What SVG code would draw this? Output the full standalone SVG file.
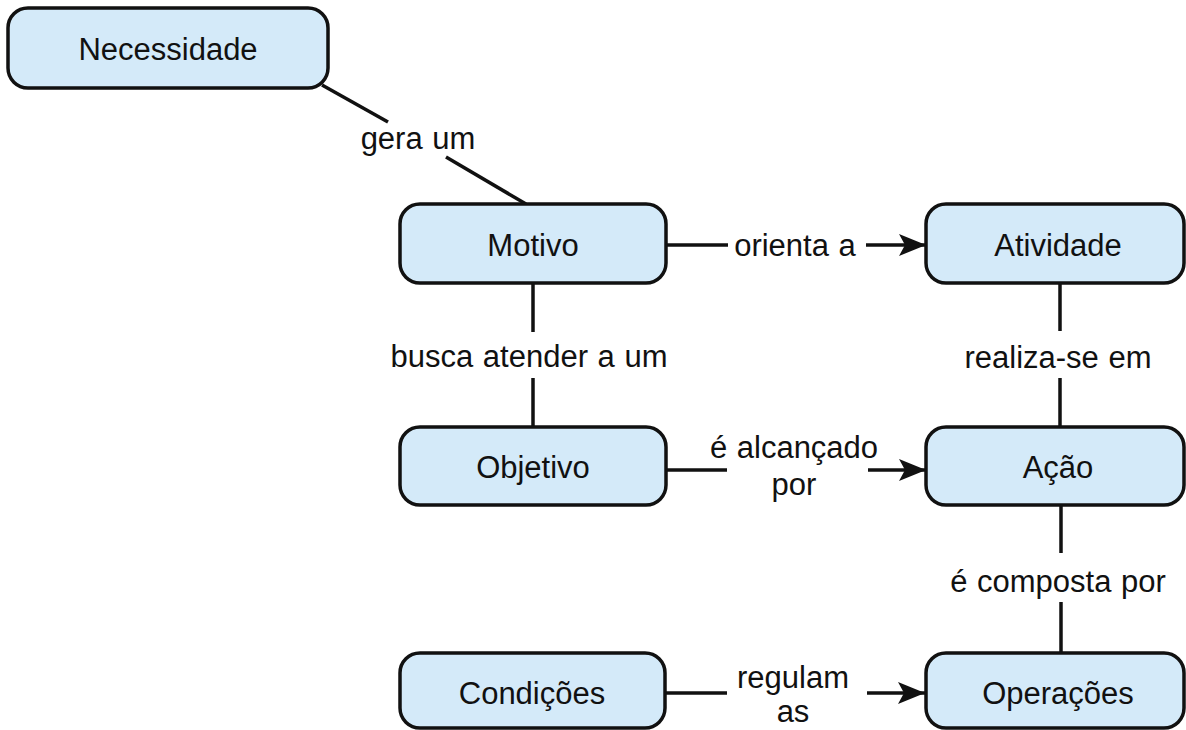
<svg xmlns="http://www.w3.org/2000/svg" width="1186" height="730" viewBox="0 0 1186 730">
<style>
.box{fill:#d4eaf9;stroke:#111;stroke-width:3.5}
.t{font-family:"Liberation Sans",Arial,sans-serif;font-size:31px;fill:#111;text-anchor:middle;word-spacing:1px}
.c{stroke:#111;stroke-width:3.5;fill:none}
</style>
<defs>
<marker id="ah" markerUnits="userSpaceOnUse" markerWidth="28" markerHeight="24" refX="27" refY="12" orient="auto">
<path d="M0,1 L27,12 L0,23 L6,12 Z" fill="#111"/>
</marker>
</defs>
<rect width="1186" height="730" fill="#fff"/>
<g id="connectors">
<line class="c" x1="322" y1="85" x2="388" y2="122"/>
<line class="c" x1="446" y1="157" x2="526" y2="204"/>
<text class="t" x="418" y="149">gera um</text>
<line class="c" x1="666" y1="245" x2="728" y2="245"/>
<line class="c" x1="866" y1="245" x2="926" y2="245" marker-end="url(#ah)"/>
<text class="t" x="795" y="256">orienta a</text>
<line class="c" x1="533" y1="283" x2="533" y2="332"/>
<line class="c" x1="533" y1="378" x2="533" y2="427"/>
<text class="t" x="529" y="367">busca atender a um</text>
<line class="c" x1="1060" y1="283" x2="1060" y2="331"/>
<line class="c" x1="1060" y1="378" x2="1060" y2="427"/>
<text class="t" x="1058" y="368">realiza-se em</text>
<line class="c" x1="666" y1="470" x2="727" y2="470"/>
<line class="c" x1="868" y1="470" x2="926" y2="470" marker-end="url(#ah)"/>
<text class="t" x="794" y="458">é alcançado</text>
<text class="t" x="794" y="495">por</text>
<line class="c" x1="1061" y1="505" x2="1061" y2="553"/>
<line class="c" x1="1061" y1="602" x2="1061" y2="653"/>
<text class="t" x="1058" y="592">é composta por</text>
<line class="c" x1="665" y1="693" x2="727" y2="693"/>
<line class="c" x1="867" y1="693" x2="925" y2="693" marker-end="url(#ah)"/>
<text class="t" x="793" y="688">regulam</text>
<text class="t" x="793" y="722">as</text>
</g>
<g id="necessidade"><rect class="box" x="8" y="8" width="320" height="80" rx="20"/><text class="t" x="168" y="60">Necessidade</text></g>
<g id="motivo"><rect class="box" x="400" y="204" width="266" height="79" rx="20"/><text class="t" x="533" y="256">Motivo</text></g>
<g id="atividade"><rect class="box" x="926" y="204" width="258" height="79" rx="20"/><text class="t" x="1058" y="256">Atividade</text></g>
<g id="objetivo"><rect class="box" x="400" y="427" width="266" height="78" rx="20"/><text class="t" x="533" y="478">Objetivo</text></g>
<g id="acao"><rect class="box" x="926" y="427" width="258" height="78" rx="20"/><text class="t" x="1058" y="478">Ação</text></g>
<g id="condicoes"><rect class="box" x="400" y="653" width="265" height="75" rx="20"/><text class="t" x="532" y="704">Condições</text></g>
<g id="operacoes"><rect class="box" x="926" y="653" width="258" height="75" rx="20"/><text class="t" x="1058" y="704">Operações</text></g>
</svg>
